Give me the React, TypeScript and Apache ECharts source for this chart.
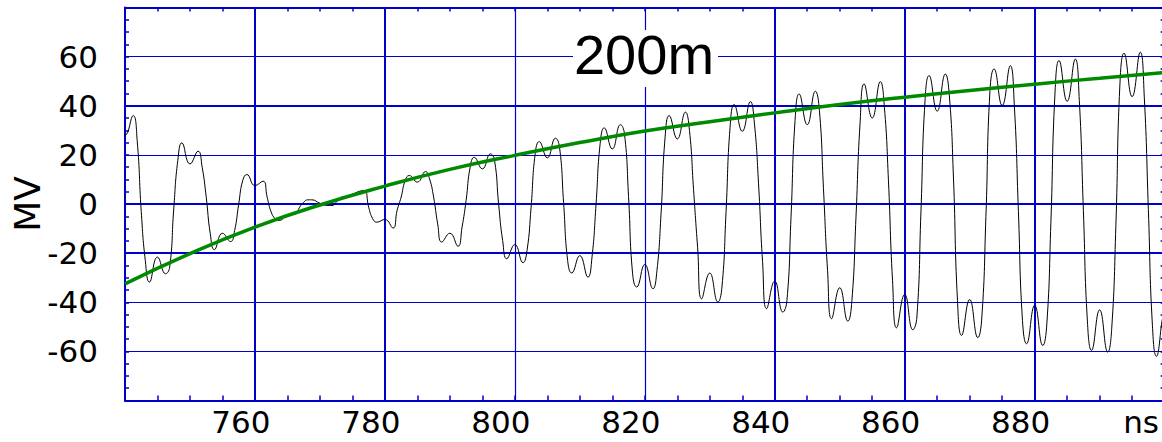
import React, { useEffect, useRef } from 'react';
import * as echarts from 'echarts';

// ---- data ----
// black trace: one row per half-cycle (centre time in ns), values in MV at
// centre + [-1.875, -1.25, 0, +1.25, +1.875, +2.5] ns
const halfCycleCenters = [
  740, 745, 750, 755, 760, 765, 770, 775, 780, 785, 790, 795, 800, 805, 810, 815, 820,
  825, 830, 835, 840, 845, 850, 855, 860, 865, 870, 875, 880, 885, 890, 895, 900,
];
const sampleOffsets = [-1.875, -1.25, 0, 1.25, 1.875, 2.5];
const blackMV = [
  [30, 34, 28, 36, 25.8, -3],
  [-23, -31.8, -21.6, -28.4, -25.7, -2],
  [17.7, 24.9, 16.3, 21.5, 15, 2.8],
  [-12.1, -18.6, -11.9, -15.3, -10.8, 0],
  [9.6, 12, 7.5, 9.3, 2.8, -3.3],
  [-6, -6.7, -4.5, -4, -1.3, 0.7],
  [1.7, 1.7, 0.3, -0.6, -0.6, 0.7],
  [2.5, 3.0, 4.0, 5.3, 5.5, -1.3],
  [-6, -7.4, -6.3, -9.8, -2.6, 2.8],
  [9.6, 11.6, 8.9, 13.2, 10.2, 2.8],
  [-8.1, -15.5, -11.9, -17.2, -9.4, 1.5],
  [15, 19, 14.3, 20.4, 17.7, 0],
  [-14.9, -22.3, -16.5, -23.9, -18.9, -1.3],
  [20.4, 25.4, 18.8, 26.8, 23.1, 0.6],
  [-23, -28.1, -21, -29.8, -21.6, 0],
  [24.5, 31, 22.4, 32.3, 28.5, 3],
  [-28.4, -33.8, -24.6, -34.5, -27, -4],
  [27.2, 36, 26.5, 37.4, 29.9, 6],
  [-17.6, -38.6, -28.1, -39.9, -33.8, -3.4],
  [31.3, 40.5, 29.6, 41.7, 32.6, 8.5],
  [-23.5, -42.6, -31.4, -44, -39.3, -5.5],
  [34, 44.8, 32.3, 45.9, 38, 6.2],
  [-27, -46.7, -34.1, -47.7, -39.3, -5.4],
  [32.6, 48.9, 35, 49.8, 39.4, 9.4],
  [-31, -50.4, -36.8, -51.2, -46, -3.2],
  [42, 52.3, 37.8, 52.9, 44, 11],
  [-39.3, -53.5, -38.9, -54.4, -46, -5],
  [46.2, 55, 40.1, 56.3, 40, -3],
  [-47.4, -56.9, -41.3, -57.6, -48.8, -7.5],
  [44.8, 58.4, 41.8, 59, 42.1, -2.6],
  [-48, -59.6, -43.1, -60.3, -50.1, -8.8],
  [48.9, 61.4, 43.7, 61.8, 43.5, -2.2],
  [-49.4, -62, -45, -60, -50, 0],
];

// green trend curve
const greenTime = [740, 750, 760, 770, 780, 790, 800, 810, 820, 830, 840, 850, 860, 870, 880, 890, 900];
const greenMV = [-32.5, -20.2, -9.4, -0.4, 7.3, 14.1, 19.8, 25.0, 29.7, 33.5, 37.1, 40.5, 43.5, 46.2, 48.8, 51.2, 53.5];

// axis labels / grid lines
const xLabelAt = [760, 780, 800, 820, 840, 860, 880, 900];
const xLabelText = ['760', '780', '800', '820', '840', '860', '880', 'ns'];
const yLabelAt = [60, 40, 20, 0, -20, -40, -60];
const gridYValues = [60, 40, 20, 0, -20, -40, -60];
const gridXValues = [760, 780, 800, 820, 840, 860, 880];
const yAxisName = 'MV';
const titleText = '200m';

// styles
const gridYWidths = [1.2, 2, 1.2, 2, 2, 1.2, 1.2];
const gridXWidths = [2, 2, 1.2, 1.2, 2, 2, 2];
const BLUE = '#0000cd';
const LABEL_FONT = 'DejaVu Sans';
const TITLE_FONT = 'Liberation Sans';

export default function App() {
  const ref = useRef<HTMLDivElement>(null);

  useEffect(() => {
    if (!ref.current) return;
    const chart = echarts.init(ref.current, undefined, { renderer: 'svg' });

    const blackData: number[][] = [];
    halfCycleCenters.forEach((c, i) => {
      sampleOffsets.forEach((o, j) => {
        blackData.push([c + o, blackMV[i][j]]);
      });
    });
    const greenData = greenTime.map((t, i) => [t, greenMV[i]]);

    const markData: any[] = [
      ...gridYValues.map((v, i) => ({ yAxis: v, lineStyle: { width: gridYWidths[i], color: BLUE, type: 'solid' } })),
      ...gridXValues.map((v, i) => ({ xAxis: v, lineStyle: { width: gridXWidths[i], color: BLUE, type: 'solid' } })),
    ];

    const axisCommon = {
      type: 'value' as const,
      splitLine: { show: false },
      axisLine: { show: true, onZero: false, lineStyle: { color: BLUE, width: 2 } },
    };

    chart.setOption({
      animation: false,
      backgroundColor: '#fff',
      grid: { left: 125, top: 7.5, width: 1039.6, height: 393, containLabel: false, outerBoundsMode: 'none' },
      graphic: [
        {
          type: 'rect',
          shape: { x: 573, y: 30, width: 145, height: 57 },
          style: { fill: '#fff' },
          z: 10,
          silent: true,
        },
        {
          type: 'text',
          x: 644,
          y: 54,
          z: 11,
          silent: true,
          style: {
            text: titleText,
            fontSize: 56,
            fontFamily: TITLE_FONT,
            fill: '#000',
            align: 'center',
            verticalAlign: 'middle',
          },
        },
      ],
      xAxis: [
        {
          ...axisCommon,
          min: 740,
          max: 900,
          interval: 5,
          position: 'bottom',
          axisTick: { show: true, inside: true, length: 5, lineStyle: { color: BLUE, width: 1.5 } },
          axisLabel: {
            show: true,
            margin: 6,
            color: '#000',
            fontFamily: LABEL_FONT,
            fontSize: 31,
            padding: [0, 28, 0, 0],
            formatter: (v: number) => {
              const k = xLabelAt.indexOf(v);
              if (k < 0) return '';
              const t = xLabelText[k];
              return t === 'ns' ? '{ns|' + t + '}' : t;
            },
            rich: {
              ns: { fontFamily: LABEL_FONT, fontSize: 31, color: '#000', padding: [0, 19, 0, 0] },
            },
          },
        },
        {
          ...axisCommon,
          min: 740,
          max: 900,
          interval: 5,
          position: 'top',
          axisTick: { show: true, inside: true, length: 4, lineStyle: { color: BLUE, width: 1.5 } },
          axisLabel: { show: false },
        },
      ],
      yAxis: [
        {
          ...axisCommon,
          min: -80,
          max: 80,
          interval: 5,
          position: 'left',
          name: yAxisName,
          nameLocation: 'middle',
          nameRotate: 90,
          nameGap: 80,
          nameMoveOverlap: false,
          nameTextStyle: { fontFamily: LABEL_FONT, fontSize: 36, color: '#000' },
          axisTick: { show: true, inside: true, length: 4, lineStyle: { color: BLUE, width: 1.5 } },
          axisLabel: {
            show: true,
            margin: 27,
            color: '#000',
            fontFamily: LABEL_FONT,
            fontSize: 31,
            formatter: (v: number) => (yLabelAt.indexOf(v) >= 0 ? String(v) : ''),
          },
        },
        {
          ...axisCommon,
          min: -80,
          max: 80,
          interval: 5,
          position: 'right',
          axisTick: { show: true, inside: true, length: 4, lineStyle: { color: BLUE, width: 1.5 } },
          axisLabel: { show: false },
        },
      ],
      series: [
        {
          type: 'line',
          xAxisIndex: 0,
          yAxisIndex: 0,
          data: blackData,
          symbol: 'none',
          showSymbol: false,
          smooth: 0.5,
          clip: true,
          z: 2,
          lineStyle: { color: '#000', width: 1 },
          markLine: {
            silent: true,
            symbol: ['none', 'none'],
            label: { show: false },
            z: 1,
            data: markData,
          },
        },
        {
          type: 'line',
          xAxisIndex: 0,
          yAxisIndex: 0,
          data: greenData,
          symbol: 'none',
          showSymbol: false,
          smooth: true,
          clip: true,
          z: 3,
          lineStyle: { color: '#008a00', width: 3.5 },
        },
      ],
    });

    return () => chart.dispose();
  }, []);

  return (
    <div
      ref={ref}
      style={{ position: 'absolute', left: 0, top: 0, width: 1162, height: 442, overflow: 'hidden' }}
    />
  );
}
